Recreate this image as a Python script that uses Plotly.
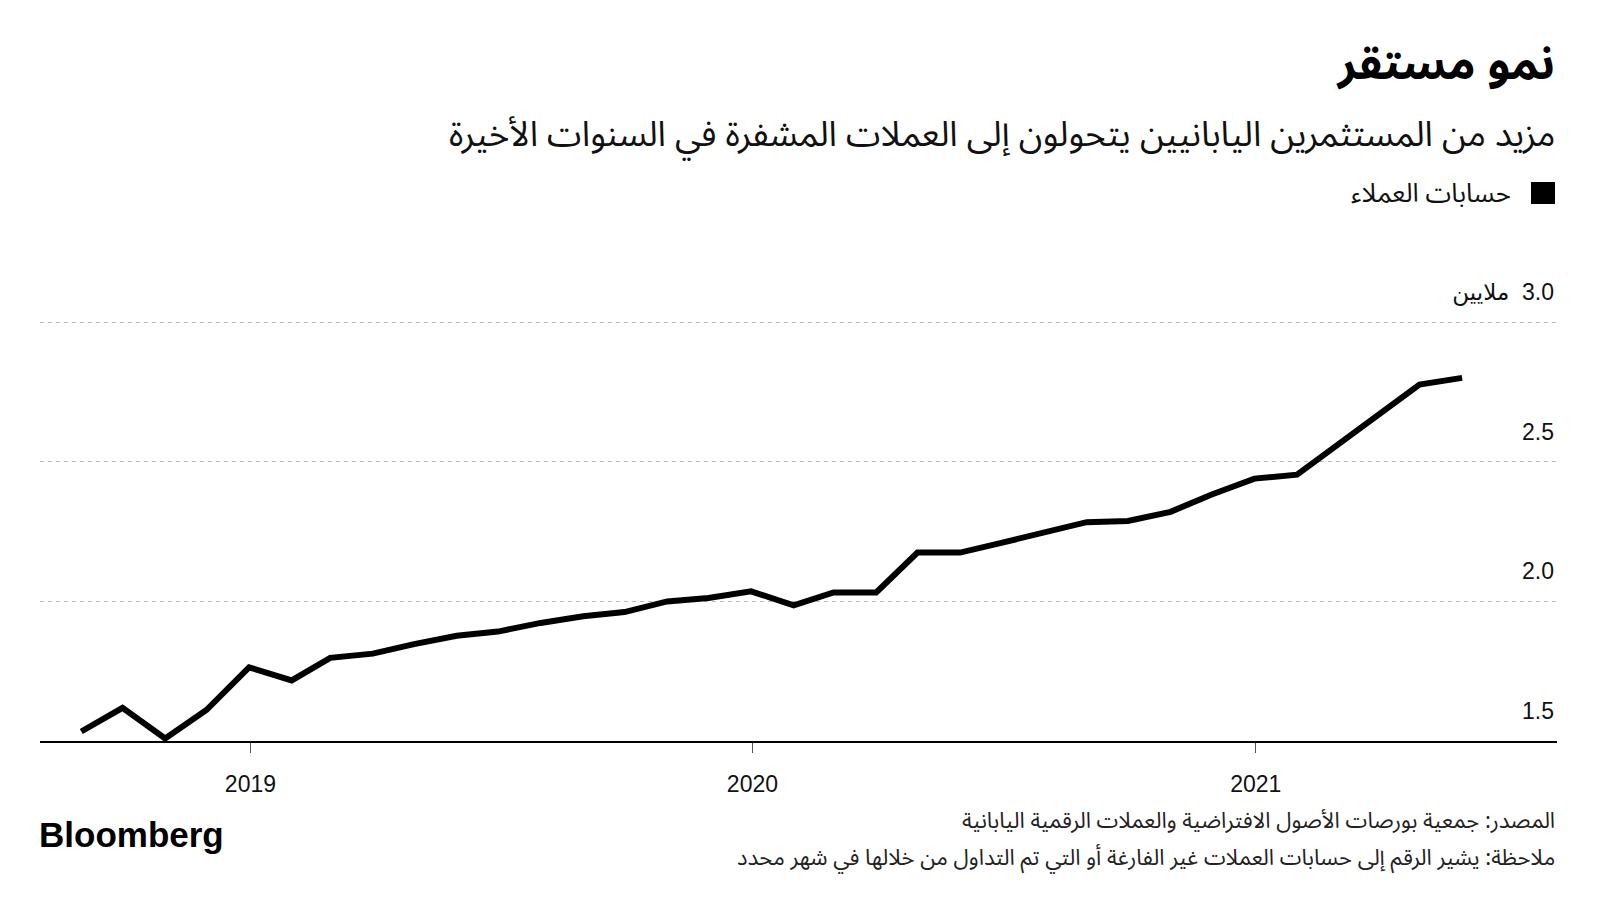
import plotly.graph_objects as go

# month-end readings, customer accounts in millions
months = [
    "2018-08-31", "2018-09-30", "2018-10-31", "2018-11-30", "2018-12-31",
    "2019-01-31", "2019-02-28", "2019-03-31", "2019-04-30", "2019-05-31",
    "2019-06-30", "2019-07-31", "2019-08-31", "2019-09-30", "2019-10-31",
    "2019-11-30", "2019-12-31", "2020-01-31", "2020-02-29", "2020-03-31",
    "2020-04-30", "2020-05-31", "2020-06-30", "2020-07-31", "2020-08-31",
    "2020-09-30", "2020-10-31", "2020-11-30", "2020-12-31", "2021-01-31",
    "2021-02-28", "2021-03-31", "2021-04-30", "2021-05-31",
]
accounts = [
    1.534, 1.619, 1.509, 1.611, 1.764,
    1.717, 1.798, 1.813, 1.847, 1.877,
    1.892, 1.923, 1.947, 1.962, 2.000,
    2.012, 2.036, 1.986, 2.032, 2.032,
    2.175, 2.175, 2.210, 2.246, 2.284,
    2.288, 2.321, 2.383, 2.440, 2.454,
    2.554, 2.671, 2.777, 2.801,
]

x_tickvals = ["2019-01-01", "2020-01-01", "2021-01-01"]
x_ticktext = ["2019", "2020", "2021"]
y_tickvals = [1.5, 2.0, 2.5, 3.0]
# LRM keeps the Arabic unit on the left of the number
y_ticktext = ["1.5", "2.0", "2.5", "ملايين\u200e\u00a0\u00a03.0"]

title = "نمو مستقر"
subtitle = "مزيد من المستثمرين اليابانيين يتحولون إلى العملات المشفرة في السنوات الأخيرة"
legend_label = "حسابات العملاء"
source = "المصدر: جمعية بورصات الأصول الافتراضية والعملات الرقمية اليابانية"
note = "ملاحظة: يشير الرقم إلى حسابات العملات غير الفارغة أو التي تم التداول من خلالها في شهر محدد"

# the page body adds an 8px margin, so the figure is drawn 8px smaller
# and every target position below is given in screenshot pixels
OFF = 8
W, H = 1600 - OFF, 900 - OFF
plot_left, plot_right = 40 - OFF, 1557 - OFF
# top of the plot area is left high so the shifted 3.0 label stays visible
plot_top, plot_bottom = 270 - OFF, 741 - OFF
M_L, M_R = plot_left, W - plot_right
M_T, M_B = plot_top, H - plot_bottom
plot_h = plot_bottom - plot_top
plot_w = plot_right - plot_left

px_per_unit = (741 - 322.3) / 1.5
y_top = 1.5 + plot_h / px_per_unit


def py(y_px):
    # screenshot row -> paper y
    return (plot_bottom - (y_px - OFF)) / plot_h


def px(x_px):
    return ((x_px - OFF) - plot_left) / plot_w


AR_FONT = "Noto Sans Arabic, DejaVu Sans, sans-serif"
NUM_FONT = "Liberation Sans, Arial, DejaVu Sans, sans-serif"

fig = go.Figure(
    go.Scatter(
        x=months, y=accounts, mode="lines",
        line=dict(color="#000000", width=6),
        showlegend=False, hoverinfo="skip",
    )
)

fig.update_xaxes(
    type="date",
    range=["2018-08-01", "2021-08-08"],
    tickvals=x_tickvals, ticktext=x_ticktext,
    ticks="outside", ticklen=10, tickwidth=1, tickcolor="#555555",
    showline=True, linecolor="#000000", linewidth=1.5,
    showgrid=False, zeroline=False,
    tickfont=dict(family=NUM_FONT, size=23, color="#111111"),
    ticklabelstandoff=12,
)
fig.update_yaxes(
    side="right",
    range=[1.5, y_top],
    tickvals=y_tickvals, ticktext=y_ticktext,
    ticklabelposition="inside", ticklabelshift=-30, ticks="",
    showgrid=True, gridcolor="#bdbdbd", gridwidth=1, griddash="4px,4px",
    zeroline=False, showline=False,
    tickfont=dict(family=NUM_FONT, size=23, color="#111111"),
)

fig.add_shape(
    type="rect", xref="paper", yref="paper",
    x0=px(1531), x1=px(1555), y0=py(204), y1=py(182),
    fillcolor="#000000", line=dict(width=0),
)

annos = [
    (title, 1.0, py(64), 46, "#000000", "bold"),
    (subtitle, 1.0, py(135), 35, "#111111", "normal"),
    (legend_label, px(1513), py(193), 26, "#111111", "normal"),
    (source, 1.0, py(821), 22, "#222222", "normal"),
    (note, 1.0, py(858), 22, "#222222", "normal"),
]
for text, x, y, size, color, weight in annos:
    fig.add_annotation(
        text=text, xref="paper", yref="paper", x=x, y=y,
        xanchor="right", yanchor="middle", showarrow=False,
        font=dict(family=AR_FONT, size=size, color=color, weight=weight),
    )

fig.add_annotation(
    text="<b>Bloomberg</b>", xref="paper", yref="paper",
    x=px(37), y=py(834), xanchor="left", yanchor="middle", showarrow=False,
    font=dict(family=NUM_FONT, size=35, color="#000000"),
)

fig.update_layout(
    width=W, height=H,
    margin=dict(l=M_L, r=M_R, t=M_T, b=M_B),
    paper_bgcolor="#ffffff", plot_bgcolor="#ffffff",
    showlegend=False,
)

fig.write_html("out.html")
